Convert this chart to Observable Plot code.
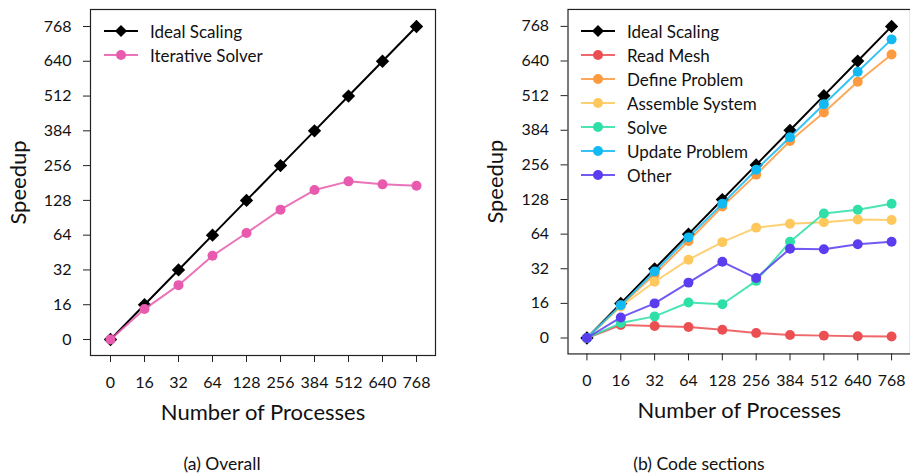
<!DOCTYPE html>
<html>
<head>
<meta charset="utf-8">
<script src="https://cdn.jsdelivr.net/npm/d3@7"></script>
<script src="https://cdn.jsdelivr.net/npm/@observablehq/plot@0.6"></script>
<style>
  html, body { margin: 0; padding: 0; background: #fff; overflow: hidden; }
  #wrap { position: relative; width: 910px; height: 476px; font-family: Lato, "Noto Sans", sans-serif; color: #111; }
  .panel { position: absolute; top: 0; }
  .caption { position: absolute; font-size: 17.5px; transform: translate(-50%, -50%); white-space: nowrap; }
  .legend { position: absolute; }
  .row { position: absolute; height: 24px; display: flex; align-items: center; white-space: nowrap; font-size: 17px; }
  .row svg { display: block; margin-right: 12px; }
</style>
</head>
<body>
<div id="wrap"></div>
<script>
// ---- data ----
const procs = [0, 16, 32, 64, 128, 256, 384, 512, 640, 768];
const yTicks = [0, 16, 32, 64, 128, 256, 384, 512, 640, 768];
const idealScaling = [0, 16, 32, 64, 128, 256, 384, 512, 640, 768];
const iterativeSolver = [0, 14, 25, 45, 68, 111, 166, 198, 187, 182];
const readMesh = [0, 6, 5.5, 5.1, 3.8, 2.3, 1.4, 1.1, 0.8, 0.7];
const defineProblem = [0, 15, 29.4, 57.6, 115, 220, 344, 450, 563, 664];
const assembleSystem = [0, 14.6, 26, 40.4, 56.6, 76, 83, 86, 91, 90];
const solve = [0, 6.9, 10, 16.4, 15.6, 26.4, 57, 102, 109, 120];
const updateProblem = [0, 15.2, 30.7, 61, 120, 238, 358, 480, 600, 720];
const other = [0, 9.5, 16, 25.6, 38.4, 27.7, 50.5, 50, 54.7, 57];

const seriesA = [
  {name: "Ideal Scaling", values: idealScaling, color: "#000000", symbol: "diamond2"},
  {name: "Iterative Solver", values: iterativeSolver, color: "#e85aad", symbol: "circle"}
];
const seriesB = [
  {name: "Ideal Scaling", values: idealScaling, color: "#000000", symbol: "diamond2"},
  {name: "Read Mesh", values: readMesh, color: "#ec4f52", symbol: "circle"},
  {name: "Define Problem", values: defineProblem, color: "#fd9a3e", symbol: "circle"},
  {name: "Assemble System", values: assembleSystem, color: "#fec85c", symbol: "circle"},
  {name: "Solve", values: solve, color: "#2edfa8", symbol: "circle"},
  {name: "Update Problem", values: updateProblem, color: "#12b9f3", symbol: "circle"},
  {name: "Other", values: other, color: "#5b3cef", symbol: "circle"}
];

const H = 440;
const Y0 = 339, Y1 = 26; // pixel positions of first and last y tick
const yRange = yTicks.map((_, i) => Y0 - i * (Y0 - Y1) / (yTicks.length - 1));

function panel(series, width, marginLeft, marginRight, xRange) {
  const marks = [Plot.frame({stroke: "#222", strokeWidth: 1.2})];
  for (const s of series) {
    const data = procs.map((p, i) => ({p, v: s.values[i]}));
    marks.push(Plot.line(data, {x: "p", y: "v", stroke: s.color, strokeWidth: 2, strokeOpacity: s.color === "#000000" ? 1 : 0.85}));
    marks.push(Plot.dot(data, {x: "p", y: "v", fill: s.color, stroke: "none", symbol: s.symbol, r: s.symbol === "circle" ? 5 : 6}));
  }
  marks.push(Plot.axisX({tickSize: 7, tickPadding: 14, fontSize: 16, label: null, stroke: "#222", fill: "#111"}));
  marks.push(Plot.axisY({ticks: yTicks, tickSize: 7, tickPadding: 12, fontSize: 16, label: null, stroke: "#222", fill: "#111"}));
  marks.push(Plot.text(["Number of Processes"], {text: d => d, frameAnchor: "bottom", lineAnchor: "middle", textAnchor: "middle", dy: 57, fontSize: 22, fill: "#111"}));
  marks.push(Plot.text(["Speedup"], {text: d => d, frameAnchor: "left", lineAnchor: "middle", textAnchor: "middle", dx: -72, rotate: -90, fontSize: 22, fill: "#111"}));
  return Plot.plot({
    width, height: H,
    marginLeft, marginRight, marginTop: 9, marginBottom: H - 355,
    style: {fontFamily: "Lato, 'Noto Sans', sans-serif", fontSize: "16px", background: "transparent", overflow: "visible"},
    x: {type: "point", domain: procs, range: xRange, padding: 0},
    y: {type: "linear", domain: yTicks, range: yRange},
    marks
  });
}

function legend(series, left, top) {
  const div = document.createElement("div");
  div.className = "legend";
  div.style.left = left + "px";
  div.style.top = top + "px";
  series.forEach((s, i) => {
    const row = document.createElement("div");
    row.className = "row";
    row.style.top = (i * 24) + "px";
    const ns = "http://www.w3.org/2000/svg";
    const sw = document.createElementNS(ns, "svg");
    sw.setAttribute("width", 34); sw.setAttribute("height", 14);
    const ln = document.createElementNS(ns, "line");
    ln.setAttribute("x1", 0); ln.setAttribute("x2", 34); ln.setAttribute("y1", 7); ln.setAttribute("y2", 7);
    ln.setAttribute("stroke", s.color); ln.setAttribute("stroke-width", 2);
    if (s.color !== "#000000") ln.setAttribute("stroke-opacity", 0.85);
    sw.appendChild(ln);
    if (s.symbol === "circle") {
      const c = document.createElementNS(ns, "circle");
      c.setAttribute("cx", 17); c.setAttribute("cy", 7); c.setAttribute("r", 5); c.setAttribute("fill", s.color);
      sw.appendChild(c);
    } else {
      const p = document.createElementNS(ns, "path");
      p.setAttribute("d", "M17,1 L23,7 L17,13 L11,7 Z"); p.setAttribute("fill", s.color);
      sw.appendChild(p);
    }
    row.appendChild(sw);
    const t = document.createElement("span");
    t.textContent = s.name;
    row.appendChild(t);
    div.appendChild(row);
  });
  return div;
}

const wrap = document.getElementById("wrap");
const pA = document.createElement("div"); pA.className = "panel"; pA.style.left = "0px";
pA.appendChild(panel(seriesA, 455, 90, 20, [106, 420]));
wrap.appendChild(pA);
const pB = document.createElement("div"); pB.className = "panel"; pB.style.left = "455px";
pB.appendChild(panel(seriesB, 457, 113, 0, [128, 442]));
wrap.appendChild(pB);

wrap.appendChild(legend(seriesA, 104, 19));
wrap.appendChild(legend(seriesB, 581, 19));

const capA = document.createElement("div"); capA.className = "caption"; capA.style.left = "222px"; capA.style.top = "463px"; capA.textContent = "(a) Overall";
const capB = document.createElement("div"); capB.className = "caption"; capB.style.left = "699px"; capB.style.top = "463px"; capB.textContent = "(b) Code sections";
wrap.appendChild(capA); wrap.appendChild(capB);
</script>
</body>
</html>
